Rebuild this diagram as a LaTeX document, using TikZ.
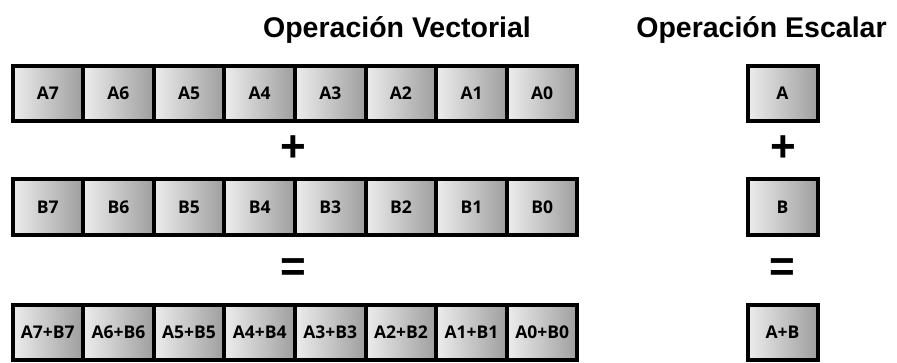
\documentclass[tikz,border=0pt]{standalone}
\usepackage{fontspec}
\setmainfont{Liberation Sans}
\newfontfamily\cellfont[BoldFont={* Bold}]{Open Sans}
\begin{document}
\begin{tikzpicture}[x=1pt,y=1pt]
\useasboundingbox (0,0) rectangle (897,362);
\tikzset{
  cell/.style={draw=black, line width=4pt, minimum width=70.6pt, minimum height=55pt,
    inner sep=0pt, left color=black!7, right color=black!38,
    font=\cellfont\bfseries\fontsize{17.5}{18}\selectfont},
  scal/.style={cell, minimum width=70pt},
  title/.style={font=\bfseries\fontsize{28.5}{30}\selectfont, anchor=base, inner sep=0pt},
  op/.style={font=\bfseries\fontsize{44}{44}\selectfont, inner sep=0pt}
}
% titles
\node[title] (tv) at (397,324) {Operación Vectorial};
\node[title] (ts) at (761.5,324) {Operación Escalar};
% vector operands and result
\foreach \i in {0,...,7} {
  \pgfmathtruncatemacro\k{7-\i}
  \pgfmathsetmacro\cx{12.5+70.625*(\i+0.5)}
  \node[cell] (a\k) at (\cx,268.5) {A\k};
  \node[cell] (b\k) at (\cx,155) {B\k};
  \node[cell] (r\k) at (\cx,29.5) {A\k+B\k};
}
% scalar operands and result
\node[scal] (sa) at (782.5,268.5) {A};
\node[scal] (sb) at (782.5,155) {B};
\node[scal] (sr) at (782.5,29.5) {A+B};
% operators
\node[op] (vplus) at (293,213) {+};
\node[op] (splus) at (783,213) {+};
\node[op] (veq) at (293,92) {=};
\node[op] (seq) at (782,92) {=};
\end{tikzpicture}
\end{document}
